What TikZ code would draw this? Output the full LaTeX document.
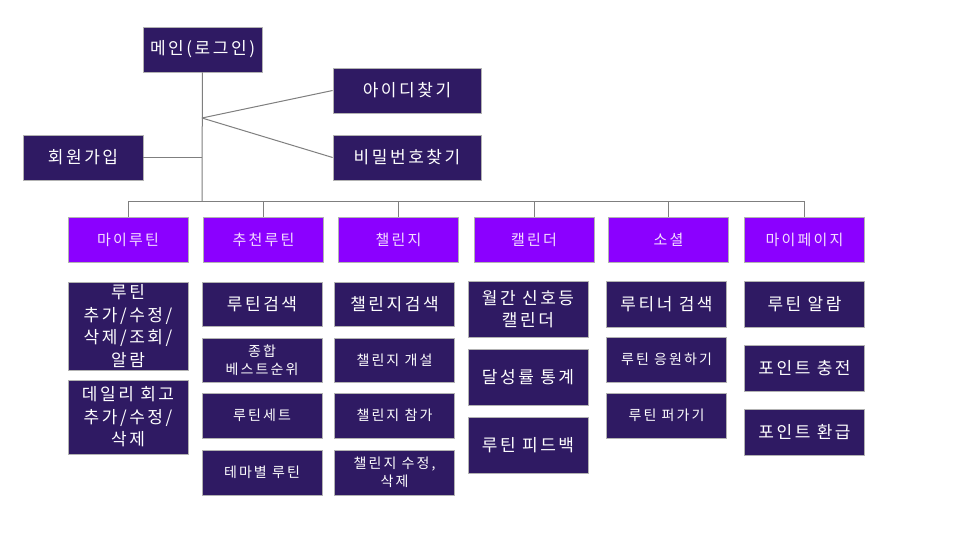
\documentclass[tikz,border=0pt]{standalone}
\usepackage{fontspec}
\newfontfamily\kr[LetterSpace=15]{Noto Sans CJK KR}
\definecolor{dk}{HTML}{2F1A63}
\definecolor{vi}{HTML}{8B00FF}
\definecolor{ln}{HTML}{7F7F7F}
\definecolor{pk}{HTML}{F4DDFF}
\tikzset{
  box/.style={draw=black!30, line width=0.8pt, fill=dk, text=white, align=center, inner sep=0pt, font=\kr\fontsize{17}{22.5}\selectfont},
  head/.style={box, minimum width=119pt, minimum height=45pt},
  menu/.style={box, fill=vi, text=pk, minimum width=120pt, minimum height=45pt, font=\kr\fontsize{15}{18}\selectfont},
  item/.style={box, minimum width=120pt, minimum height=45pt},
  sm/.style={font=\kr\fontsize{14}{17.5}\selectfont},
}
\begin{document}
\begin{tikzpicture}[x=1pt, y=-1pt]
    \fill [white] (0,0) rectangle (960,540);
    \useasboundingbox (0,0) rectangle (960,540);

    \node (m0) [head] at (202.5,49.5) {메인(로그인)};
    \node (f1) [head, minimum width=148pt] at (407,90.5) {아이디찾기};
    \node (f2) [head, minimum width=148pt] at (407,157.5) {비밀번호찾기};
    \node (j0) [head, minimum width=120pt] at (83,157.5) {회원가입};
    \coordinate (hub) at (202,118);
    \coordinate (bus) at (202,201);

    \node (c1) [menu] at (128,239.5) {마이루틴};
    \node (c2) [menu] at (263.5,239.5) {추천루틴};
    \node (c3) [menu] at (398.5,239.5) {챌린지};
    \node (c4) [menu] at (534,239.5) {캘린더};
    \node (c5) [menu] at (668.5,239.5) {소셜};
    \node (c6) [menu] at (804.5,239.5) {마이페이지};

    \node (c1a) [item, minimum height=88pt] at (128,326) {루틴\\추가/수정/\\삭제/조회/\\알람};
    \node (c1b) [item, minimum height=74pt] at (128,417) {데일리 회고\\추가/수정/\\삭제};

    \node (c2a) [item, minimum height=44pt] at (262,304) {루틴검색};
    \node (c2b) [item, sm, minimum height=44pt] at (262,360) {종합\\베스트순위};
    \node (c2c) [item, sm] at (262,415.5) {루틴세트};
    \node (c2d) [item, sm] at (262,472.5) {테마별 루틴};

    \node (c3a) [item, minimum height=44pt] at (394.5,304) {챌린지검색};
    \node (c3b) [item, sm, minimum height=44pt] at (394.5,360) {챌린지 개설};
    \node (c3c) [item, sm] at (394.5,415.5) {챌린지 참가};
    \node (c3d) [item, sm] at (394.5,472.5) {챌린지 수정,\\삭제};

    \node (c4a) [item, minimum height=56pt] at (528,309) {월간 신호등\\캘린더};
    \node (c4b) [item, minimum height=56pt] at (528,377) {달성률 통계};
    \node (c4c) [item, minimum height=56pt] at (528,445) {루틴 피드백};

    \node (c5a) [item, minimum height=46pt] at (666.5,304) {루티너 검색};
    \node (c5b) [item, sm] at (666.5,359.5) {루틴 응원하기};
    \node (c5c) [item, sm] at (666.5,415.5) {루틴 퍼가기};

    \node (c6a) [item, minimum height=46pt] at (804.5,304) {루틴 알람};
    \node (c6b) [item, minimum height=46pt] at (804.5,368) {포인트 충전};
    \node (c6c) [item, minimum height=46pt] at (804.5,432) {포인트 환급};

  \draw [ln, line width=1pt] (m0) -- (bus);
  \draw [ln, line width=1pt] (hub) -- (f1.west);
  \draw [ln, line width=1pt] (hub) -- (f2.west);
  \draw [ln, line width=1pt] (j0) -- (j0 -| bus);
  \foreach \c in {c1,c2,c3,c4,c5,c6}
    \draw [ln, line width=1pt] (bus) -| (\c.north);
\end{tikzpicture}
\end{document}
